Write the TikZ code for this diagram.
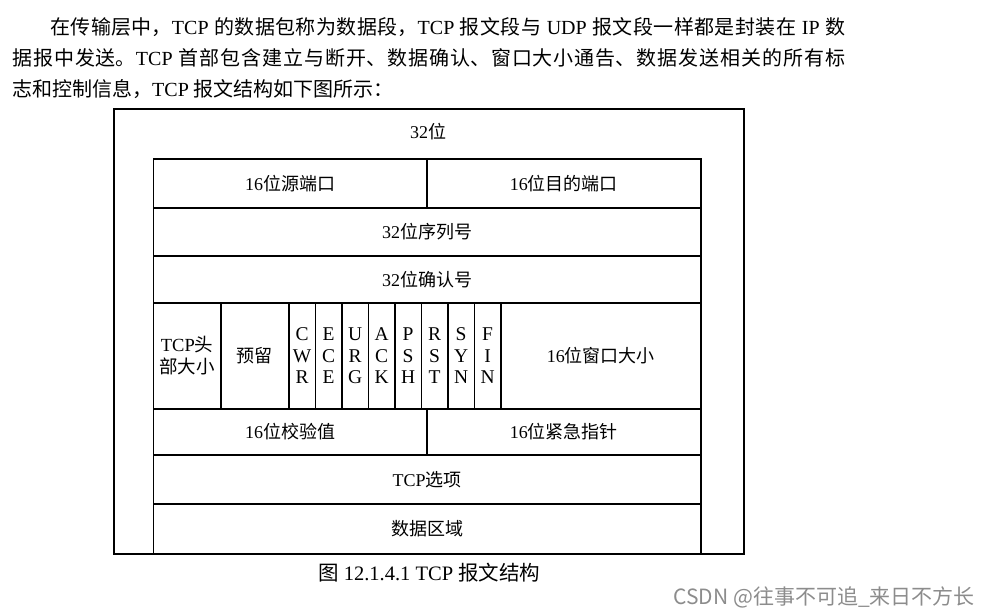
\documentclass[tikz,border=0pt]{standalone}
\usepackage{fontspec}
\setmainfont{Liberation Serif}
\newfontfamily\cjk{Noto Sans CJK SC}
\newcommand{\zh}[1]{{\cjk #1}}
\XeTeXlinebreaklocale "zh"
\XeTeXlinebreakskip=0pt plus 2pt
\usetikzlibrary{positioning}

\begin{document}
\begin{tikzpicture}[
  x=1pt, y=-1pt,
  font=\fontsize{18}{21}\selectfont,
  frame/.style  ={draw,line width=1.8pt,anchor=north west,inner sep=0pt,
                   minimum width=630pt,minimum height=445pt},
  field/.style  ={draw,line width=1.7pt,anchor=north west,inner sep=0pt,
                   align=center},
  flag/.style   ={field,minimum width=26.5pt,minimum height=106pt,
                   font=\fontsize{19.5}{21.5}\selectfont},
  para/.style   ={anchor=north west,inner sep=0pt,text width=833pt,
                   align=justify,font=\fontsize{20}{31}\selectfont},
  caption/.style={anchor=west,inner sep=0pt,font=\fontsize{20.5}{24}\selectfont},
  watermark/.style={anchor=east,inner sep=0pt,text=black!45,
                   font=\cjk\fontsize{21}{24}\selectfont}]

\useasboundingbox (0,0) rectangle (992,615);

% --- text above the figure ---
\node[para] (para) at (12,17)
  {\hspace*{38pt}\zh{在传输层中，}TCP \zh{的数据包称为数据段，}TCP \zh{报文段与} UDP
   \zh{报文段一样都是封装在} IP \zh{数}\linebreak
   \zh{据报中发送。}TCP \zh{首部包含建立与断开、数据确认、窗口大小通告、数据发送相关的所有标}\linebreak
   \zh{志和控制信息，}TCP \zh{报文结构如下图所示：}};

% --- outer frame and width label ---
\node[frame] (frame) at (113,108) {};
\node (bits) at (428,132) {32\zh{位}};

% --- ports, sequence and acknowledgement ---
\node[field,minimum width=273.5pt,minimum height=49pt] (src) at (152.5,158) {16\zh{位源端口}};
\node[field,minimum width=274pt,minimum height=49pt] (dst) at (426,158) {16\zh{位目的端口}};
\node[field,minimum width=547.5pt,minimum height=48pt] (seq) at (152.5,207) {32\zh{位序列号}};
\node[field,minimum width=547.5pt,minimum height=47pt] (ack) at (152.5,255) {32\zh{位确认号}};

% --- header length, reserved bits, flags, window ---
\node[field,minimum width=67.5pt,minimum height=106pt,
      font=\fontsize{18.5}{22}\selectfont] (hlen) at (152.5,302) {TCP\zh{头}\\\zh{部大小}};
\node[field,minimum width=68pt,minimum height=106pt] (resv) at (220,302) {\zh{预留}};
\foreach \name/\txt [count=\i] in {cwr/C\\W\\R, ece/E\\C\\E, urg/U\\R\\G, ackf/A\\C\\K,
                                    psh/P\\S\\H, rst/R\\S\\T, syn/S\\Y\\N, fin/F\\I\\N}
  \node[flag] (\name) at ({288+(\i-1)*26.5},302) {\txt};
\node[field,minimum width=200pt,minimum height=106pt] (win) at (500,302) {16\zh{位窗口大小}};

% --- checksum, urgent pointer, options, data ---
\node[field,minimum width=273.5pt,minimum height=46pt] (csum) at (152.5,408) {16\zh{位校验值}};
\node[field,minimum width=274pt,minimum height=46pt] (uptr) at (426,408) {16\zh{位紧急指针}};
\node[field,minimum width=547.5pt,minimum height=49pt] (opt) at (152.5,454) {TCP\zh{选项}};
\node[field,minimum width=547.5pt,minimum height=50pt] (data) at (152.5,503) {\zh{数据区域}};

% --- caption and watermark ---
\node[caption] (cap) at (318,573) {\zh{图} 12.1.4.1 TCP \zh{报文结构}};
\node[watermark] (wm) at (975,597) {CSDN @往事不可追\_来日不方长};

\end{tikzpicture}
\end{document}
